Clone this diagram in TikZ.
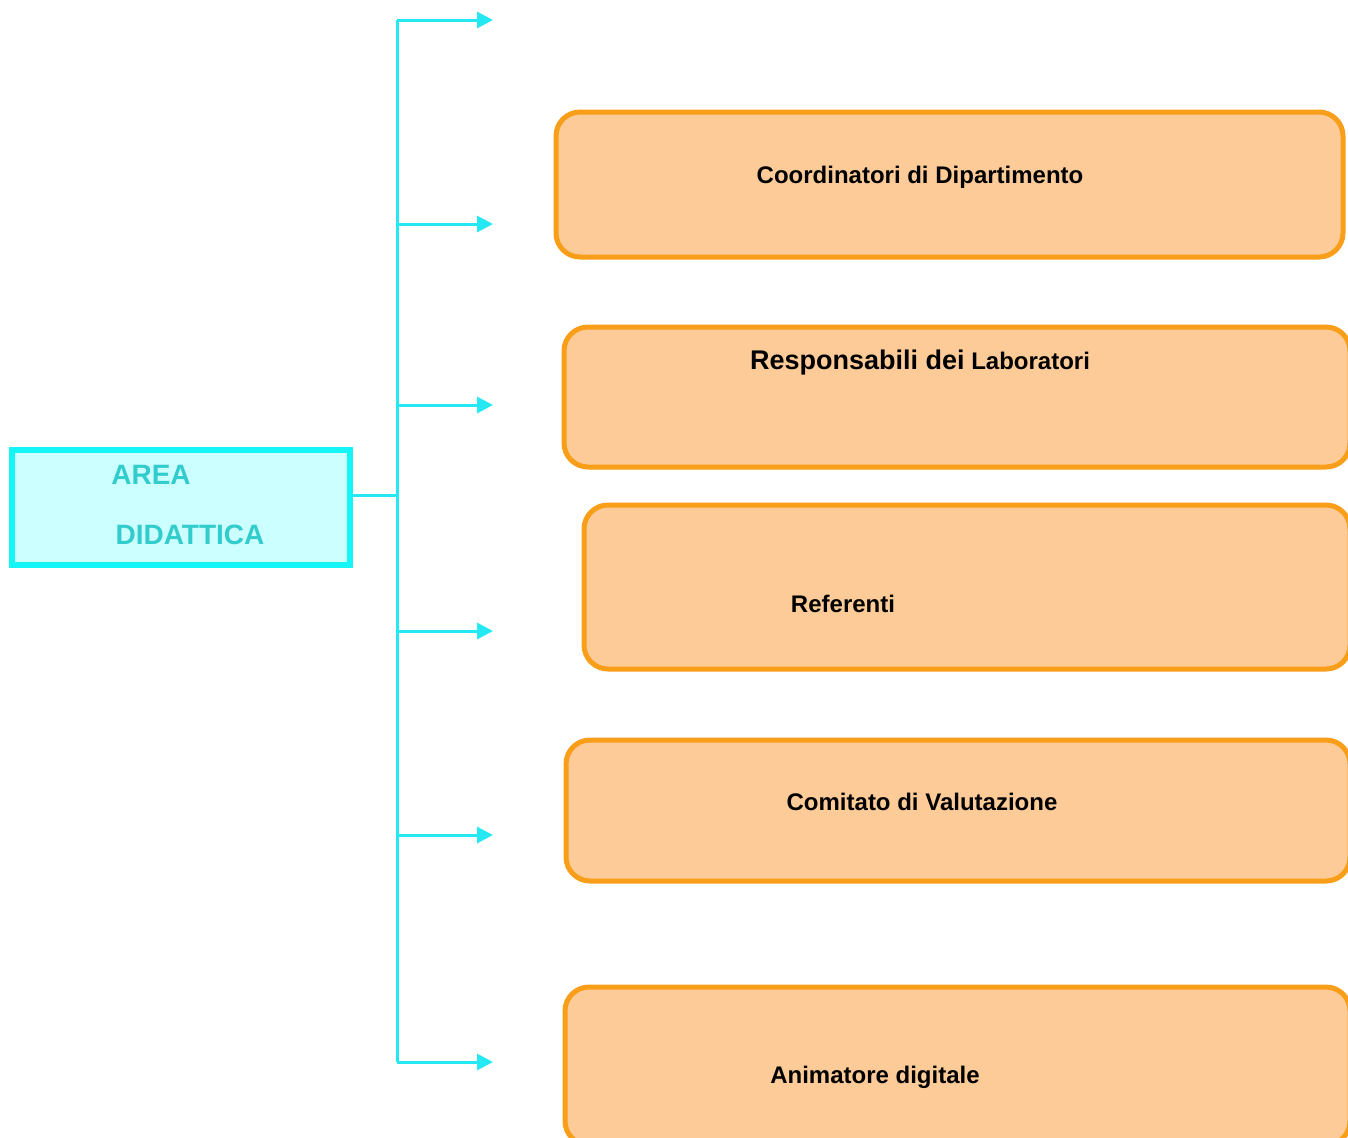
\documentclass[tikz,border=0pt]{standalone}
\usepackage{fontspec}
\setmainfont{Liberation Sans}
\usetikzlibrary{arrows.meta,positioning}
\definecolor{linecyan}{RGB}{38,232,242}
\definecolor{areaborder}{RGB}{20,245,245}
\definecolor{areafill}{RGB}{204,255,255}
\definecolor{areatext}{RGB}{51,204,204}
\definecolor{roleborder}{RGB}{248,158,24}
\definecolor{rolefill}{RGB}{253,203,152}

\begin{document}
\begin{tikzpicture}[
  x=0.5pt,y=-0.5pt,
  area/.style={draw=areaborder,fill=areafill,line width=3pt,line cap=round,inner sep=0pt},
  rolebox/.style={draw=roleborder,fill=rolefill,line width=2.5pt,rounded corners=12pt,inner sep=0pt},
  areatxt/.style={text=areatext,font=\bfseries\fontsize{14}{16}\selectfont,inner sep=0pt},
  roletxt/.style={font=\bfseries\fontsize{12}{14}\selectfont,inner sep=0pt},
  branch/.style={draw=linecyan,line width=1.5pt,-{Triangle[length=8pt,width=8pt]}},
  trunk/.style={draw=linecyan,line width=1.5pt}
]
\useasboundingbox (0,0) rectangle (1348,1137);

% area node
\node[area,minimum width=169pt,minimum height=57.5pt] (area) at (181,507.5) {};
\node[areatxt] (areaA) at (151,475) {AREA};
\node[areatxt] (areaB) at (190,535) {DIDATTICA};

% role boxes
\node[rolebox,minimum width=393.5pt,minimum height=72.5pt] (coord) at (949.5,184.5) {};
\node[roletxt] (coordT) at (920,177) {Coordinatori di Dipartimento};
\node[rolebox,minimum width=393pt,minimum height=70pt] (lab) at (957,397) {};
\node[roletxt] (labT) at (920,363) {{\fontsize{13.5}{16}\selectfont Responsabili dei} Laboratori};
\node[rolebox,minimum width=383pt,minimum height=82pt] (ref) at (967,587) {};
\node[roletxt] (refT) at (843,604) {Referenti};
\node[rolebox,minimum width=392pt,minimum height=70.5pt] (comit) at (958,810.5) {};
\node[roletxt] (comitT) at (922,802) {Comitato di Valutazione};
\node[rolebox,minimum width=392.5pt,minimum height=79pt] (anim) at (957.5,1066) {};
\node[roletxt] (animT) at (875,1077) {Animatore digitale};

% connectors
\coordinate (hub) at (397,495);
\coordinate (top) at (397,20);
\coordinate (bot) at (397,1062);
\draw[trunk] (area.east |- hub) -- (hub);
\draw[trunk] (top) -- (bot);
\foreach \y/\name in {20/a,224/b,405/c,631/d,835/e,1062/f} {
  \coordinate (s\name) at (397,\y);
  \coordinate (e\name) at (493,\y);
  \draw[branch] (s\name) -- (e\name);
}
\end{tikzpicture}
\end{document}
